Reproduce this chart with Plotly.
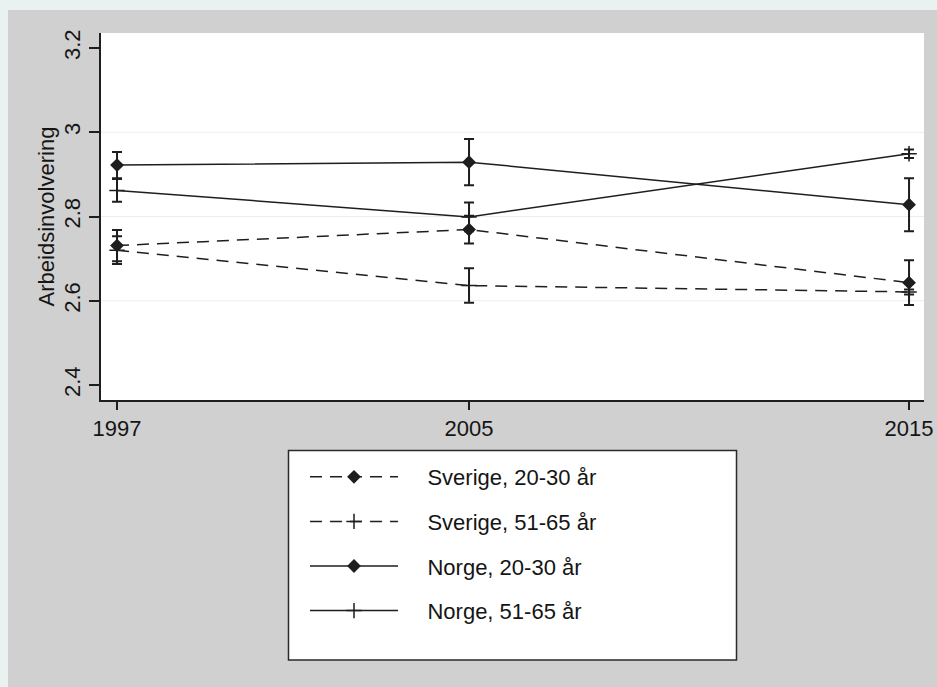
import plotly.graph_objects as go

# Survey years on the x axis
years = [1997, 2005, 2015]

# Mean work involvement and half-width of the confidence interval per group
sverige_young = [2.731, 2.769, 2.643]
sverige_young_ci = [0.037, 0.033, 0.053]
sverige_old = [2.720, 2.636, 2.621]
sverige_old_ci = [0.033, 0.041, 0.006]
norge_young = [2.922, 2.929, 2.828]
norge_young_ci = [0.031, 0.055, 0.063]
norge_old = [2.862, 2.799, 2.949]
norge_old_ci = [0.027, 0.034, 0.010]

series_names = ["Sverige, 20-30 år", "Sverige, 51-65 år", "Norge, 20-30 år", "Norge, 51-65 år"]
y_ticks = [2.4, 2.6, 2.8, 3.0, 3.2]
y_tick_text = ["2.4", "2.6", "2.8", "3", "3.2"]
grid_values = [2.6, 2.8, 3.0]

W, H = 937, 687
L, R, T, B = 101, 13, 33, 287
FONT = "Liberation Sans, Arial, sans-serif"
INK = "#151515"
LINE = "#1e1e1e"

DASH = "12px,8px"
GAP = "\u00a0" * 4  # space between legend key and label

def px_x(p):
    return (p - L) / (W - L - R)

def px_y(p):
    return (H - B - p) / (H - T - B)

fig = go.Figure()

styles = [
    (sverige_young, sverige_young_ci, DASH, "diamond"),
    (sverige_old, sverige_old_ci, DASH, "cross-thin"),
    (norge_young, norge_young_ci, "solid", "diamond"),
    (norge_old, norge_old_ci, "solid", "cross-thin"),
]

for i, (name, (vals, ci, dash, sym)) in enumerate(zip(series_names, styles)):
    fig.add_trace(go.Scatter(
        x=years, y=vals, name=GAP + name, mode="lines+markers",
        legendgroup=f"g{i}",
        hovertemplate=name + ": %{y:.3f}<extra></extra>",
        line=dict(color=LINE, width=1.5, dash=dash),
        marker=dict(symbol=sym, size=9 if sym == "diamond" else 11,
                    color=LINE, line=dict(color=LINE, width=1.5)),
        error_y=dict(type="data", array=ci, visible=True,
                     color=LINE, thickness=2, width=5),
    ))

shapes = []
# light horizontal gridlines
for g in grid_values:
    shapes.append(dict(type="line", xref="paper", yref="y", x0=0, x1=1, y0=g, y1=g,
                       line=dict(color="#e9eef1", width=1), layer="below"))
# thin light border along the top and left edge of the canvas
shapes.append(dict(type="rect", xref="paper", yref="paper",
                   x0=px_x(0), x1=px_x(W), y0=px_y(10), y1=px_y(0),
                   fillcolor="#eaf1f1", line=dict(width=0), layer="below"))
shapes.append(dict(type="rect", xref="paper", yref="paper",
                   x0=px_x(0), x1=px_x(8), y0=px_y(H), y1=px_y(0),
                   fillcolor="#eaf1f1", line=dict(width=0), layer="below"))
# legend frame
shapes.append(dict(type="rect", xref="paper", yref="paper",
                   x0=px_x(288.5), x1=px_x(736.5), y0=px_y(660), y1=px_y(450.5),
                   fillcolor="white", line=dict(color="#2a2a2a", width=1.5), layer="below"))

fig.update_layout(
    width=W, height=H,
    margin=dict(l=L, r=R, t=T, b=B, pad=0, autoexpand=False),
    paper_bgcolor="#d0d0d0",
    plot_bgcolor="white",
    font=dict(family=FONT, size=22, color=INK),
    shapes=shapes,
    showlegend=True,
    legend=dict(
        x=px_x(305), y=px_y(456), xanchor="left", yanchor="top",
        bgcolor="rgba(0,0,0,0)", borderwidth=0,
        font=dict(family=FONT, size=22, color=INK),
        itemwidth=88, traceorder="grouped", tracegroupgap=13,
    ),
    xaxis=dict(
        range=[1996.636, 2015.34], tickvals=years, ticktext=[str(y) for y in years],
        showgrid=False, zeroline=False, showline=True, linecolor=LINE, linewidth=2,
        ticks="outside", ticklen=8, tickwidth=1.5, tickcolor=LINE, automargin=False,
        tickfont=dict(family=FONT, size=22, color=INK),
    ),
    yaxis=dict(
        range=[2.3644, 3.2356], tickvals=y_ticks, ticktext=y_tick_text,
        tickangle=-90, showgrid=False, zeroline=False, automargin=False,
        showline=True, linecolor=LINE, linewidth=2,
        ticks="outside", ticklen=10, tickwidth=1.5, tickcolor=LINE,
        tickfont=dict(family=FONT, size=22, color=INK),
        title=dict(text="Arbeidsinvolvering", standoff=0,
                   font=dict(family=FONT, size=22, color=INK)),
    ),
)

fig.write_html("out.html")
